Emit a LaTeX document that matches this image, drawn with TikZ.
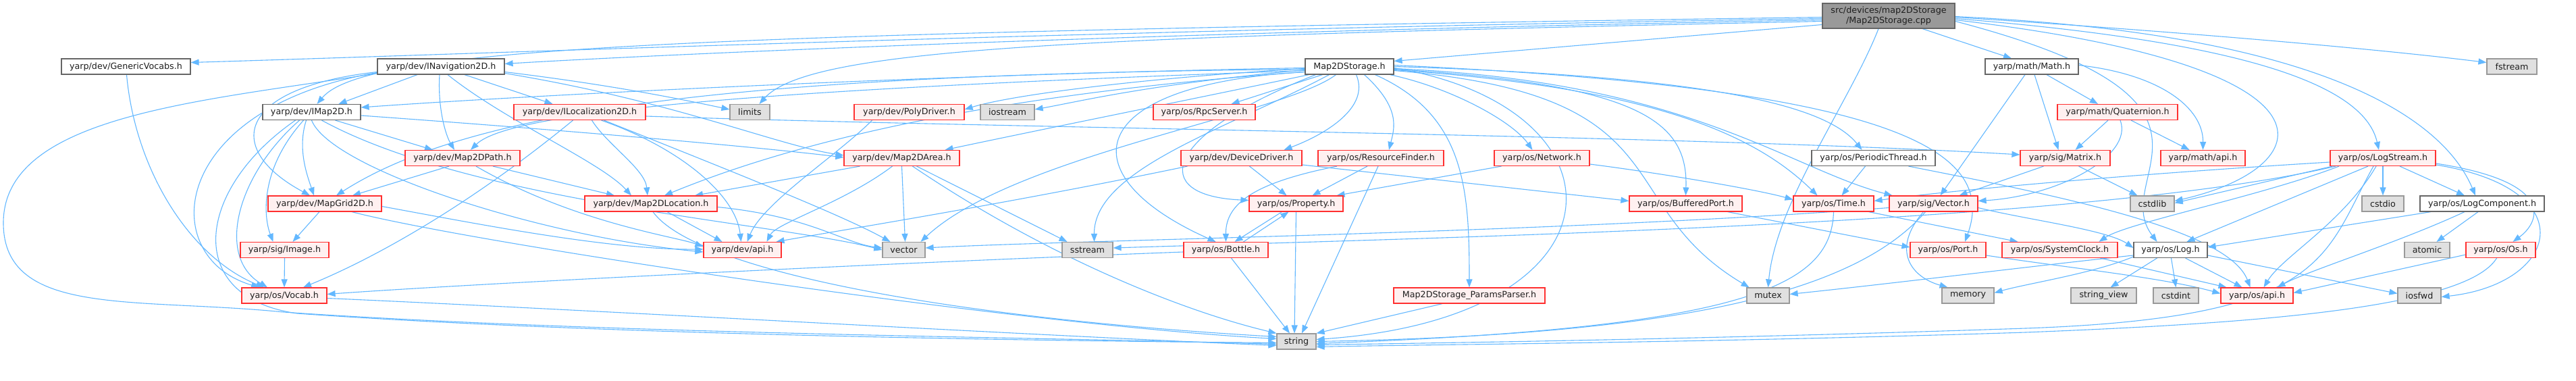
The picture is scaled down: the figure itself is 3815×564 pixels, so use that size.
\documentclass[tikz,border=0pt]{standalone}
\usepackage{fontspec}
\setmainfont{DejaVu Sans}
\usetikzlibrary{arrows.meta}
\definecolor{edgec}{HTML}{63B8FF}
\definecolor{redb}{HTML}{FF3030}
\definecolor{redf}{HTML}{FFF0F0}
\definecolor{grayf}{HTML}{E0E0E0}
\definecolor{grayb}{HTML}{999999}
\definecolor{darkb}{HTML}{666666}
\definecolor{rootf}{HTML}{999999}
\pgfdeclarelayer{bg}
\pgfsetlayers{bg,main}
\begin{document}
\begin{tikzpicture}[x=1pt,y=-1pt,
  nbox/.style={rectangle, draw, line width=1.2pt, minimum height=23pt, inner sep=0pt, font=\fontsize{12.7}{15}\selectfont, text=black!88},
  wnode/.style={nbox, draw=darkb, fill=white},
  rnode/.style={nbox, draw=redb, fill=redf},
  gnode/.style={nbox, draw=grayb, fill=grayf},
  edg/.style={draw=edgec, line width=1.1pt, -{Triangle[length=12pt,width=9pt]}}]
\useasboundingbox (0,0) rectangle (3815,564);
% root
\node[nbox, draw=darkb, fill=rootf, minimum width=196pt, minimum height=37pt, align=center] (root) at (2797,23.5) {src/devices/map2DStorage\\/Map2DStorage.cpp};
% row 1
\node[wnode, minimum width=191pt] (gv) at (186.5,98.5) {yarp/dev/GenericVocabs.h};
\node[wnode, minimum width=188pt] (nav) at (653,98.5) {yarp/dev/INavigation2D.h};
\node[wnode, minimum width=131pt] (m2s) at (1998.5,98.5) {Map2DStorage.h};
\node[wnode, minimum width=138pt] (math) at (3009,98.5) {yarp/math/Math.h};
\node[gnode, minimum width=74pt] (fstream) at (3720,98.5) {fstream};
% row 2
\node[wnode, minimum width=145pt] (imap) at (461.5,166) {yarp/dev/IMap2D.h};
\node[rnode, minimum width=195pt] (iloc) at (858.5,166) {yarp/dev/ILocalization2D.h};
\node[gnode, minimum width=59pt] (limits) at (1110.5,166) {limits};
\node[rnode, minimum width=163pt] (poly) at (1346.5,166) {yarp/dev/PolyDriver.h};
\node[gnode, minimum width=80pt] (iostream) at (1492,166) {iostream};
\node[rnode, minimum width=151pt] (rpc) at (1783.5,166) {yarp/os/RpcServer.h};
\node[rnode, minimum width=178pt] (quat) at (3136,166) {yarp/math/Quaternion.h};
% row 3
\node[rnode, minimum width=170pt] (path) at (685,234) {yarp/dev/Map2DPath.h};
\node[rnode, minimum width=171pt] (area) at (1335.5,234) {yarp/dev/Map2DArea.h};
\node[rnode, minimum width=179pt] (dd) at (1838.5,234) {yarp/dev/DeviceDriver.h};
\node[rnode, minimum width=186pt] (rf) at (2045,234) {yarp/os/ResourceFinder.h};
\node[rnode, minimum width=141pt] (net) at (2283.5,234) {yarp/os/Network.h};
\node[wnode, minimum width=183pt] (pt) at (2774.5,234) {yarp/os/PeriodicThread.h};
\node[rnode, minimum width=133pt] (matrix) at (3058.5,234) {yarp/sig/Matrix.h};
\node[rnode, minimum width=125pt] (mapi) at (3262.5,234) {yarp/math/api.h};
\node[rnode, minimum width=156pt] (ls) at (3529,234) {yarp/os/LogStream.h};
% row 4
\node[rnode, minimum width=168pt] (grid) at (481,301.5) {yarp/dev/MapGrid2D.h};
\node[rnode, minimum width=196pt] (loc) at (964,301.5) {yarp/dev/Map2DLocation.h};
\node[rnode, minimum width=139pt] (prop) at (1919.5,301.5) {yarp/os/Property.h};
\node[rnode, minimum width=167pt] (bp) at (2496.5,301.5) {yarp/os/BufferedPort.h};
\node[rnode, minimum width=119pt] (time) at (2715.5,301.5) {yarp/os/Time.h};
\node[rnode, minimum width=131pt] (vec) at (2863.5,301.5) {yarp/sig/Vector.h};
\node[gnode, minimum width=65pt] (cstdlib) at (3187.5,301.5) {cstdlib};
\node[gnode, minimum width=62pt] (cstdio) at (3529,301.5) {cstdio};
\node[wnode, minimum width=184pt] (lc) at (3676,301.5) {yarp/os/LogComponent.h};
% row 5
\node[rnode, minimum width=131pt] (image) at (421.5,370) {yarp/sig/Image.h};
\node[rnode, minimum width=115pt] (devapi) at (1099.5,370) {yarp/dev/api.h};
\node[gnode, minimum width=63pt] (vector) at (1338.5,370) {vector};
\node[gnode, minimum width=75pt] (sstream) at (1610.5,370) {sstream};
\node[rnode, minimum width=125pt] (bottle) at (1815.5,370) {yarp/os/Bottle.h};
\node[rnode, minimum width=112pt] (port) at (2885,370) {yarp/os/Port.h};
\node[rnode, minimum width=171pt] (sc) at (3050.5,370) {yarp/os/SystemClock.h};
\node[wnode, minimum width=109pt] (log) at (3214.5,370) {yarp/os/Log.h};
\node[gnode, minimum width=67pt] (atomic) at (3594.5,370) {atomic};
\node[rnode, minimum width=103pt] (os) at (3703.5,370) {yarp/os/Os.h};
% row 6
\node[rnode, minimum width=126pt] (vocab) at (421,437.5) {yarp/os/Vocab.h};
\node[rnode, minimum width=224pt] (pp) at (2176,437.5) {Map2DStorage\_ParamsParser.h};
\node[gnode, minimum width=63pt] (mutex) at (2618.5,437.5) {mutex};
\node[gnode, minimum width=77pt] (memory) at (2914.5,437.5) {memory};
\node[gnode, minimum width=97pt] (sv) at (3115.5,437.5) {string\_view};
\node[gnode, minimum width=67pt] (cstdint) at (3222.5,437.5) {cstdint};
\node[rnode, minimum width=107pt] (osapi) at (3342.5,437.5) {yarp/os/api.h};
\node[gnode, minimum width=64pt] (iosfwd) at (3583,437.5) {iosfwd};
% row 7
\node[gnode, minimum width=58pt] (string) at (1920,505.5) {string};

\begin{pgfonlayer}{bg}
\fill[white] (0,0) rectangle (3815,564);
% root edges
\draw[edg] ([yshift=-13pt]root.west) -- ([yshift=8pt]m2s.east);
\draw[edg] ([yshift=-4pt]root.west) .. controls (1600,45) and (700,80) .. ([yshift=6pt]gv.east);
\draw[edg] ([yshift=-6pt]root.west) .. controls (1600,50) and (900,85) .. ([yshift=4pt]nav.east);
\draw[edg] ([yshift=-2pt]root.west) .. controls (1000,50) and (540,70) .. ([xshift=8pt]imap.north);
\draw[edg] ([yshift=-8pt]root.west) .. controls (1600,55) and (1200,70) .. ([xshift=14pt]limits.north);
\draw[edg] ([xshift=50pt]root.south) -- ([xshift=-30pt]math.north);
\draw[edg] ([xshift=-15pt]root.south) .. controls (2740,150) and (2630,300) .. (mutex.north);
\draw[edg] ([yshift=-2pt]root.east) .. controls (3200,45) and (3500,70) .. ([yshift=6pt]fstream.west);
\draw[edg] ([yshift=-4pt]root.east) .. controls (3300,60) and (3500,120) .. ([xshift=-6pt]ls.north);
\draw[edg] ([yshift=-1pt]root.east) .. controls (3450,50) and (3620,180) .. ([xshift=-10pt]lc.north);
\draw[edg] ([yshift=-6pt]root.east) .. controls (3500,100) and (3430,250) .. ([yshift=4pt]cstdlib.east);
\draw[edg] ([yshift=-8pt]root.east) .. controls (3350,150) and (3120,260) .. ([xshift=-20pt]log.north);
% Map2DStorage.h edges
\draw[edg] ([xshift=-40pt]m2s.south) -- ([xshift=40pt]rpc.north);
\draw[edg] ([yshift=-3pt]m2s.west) .. controls (1700,115) and (1500,140) .. ([yshift=4pt]poly.east);
\draw[edg] ([yshift=-5pt]m2s.west) .. controls (1700,125) and (1600,150) .. ([yshift=4pt]iostream.east);
\draw[edg] ([yshift=-2pt]m2s.west) .. controls (1400,110) and (800,140) .. ([yshift=7pt]imap.east);
\draw[edg] ([yshift=-4pt]m2s.west) .. controls (1100,110) and (700,160) .. ([xshift=17pt]grid.north);
\draw[edg] ([yshift=-6pt]m2s.west) .. controls (1200,130) and (760,160) .. ([xshift=12pt]path.north);
\draw[edg] ([yshift=-8pt]m2s.west) .. controls (1600,130) and (1250,180) .. ([xshift=20pt]loc.north);
\draw[edg] ([xshift=-60pt]m2s.south) .. controls (1750,150) and (1550,190) .. ([xshift=64pt]area.north);
\draw[edg] ([xshift=10pt]m2s.south) .. controls (2030,160) and (1960,200) .. ([xshift=63pt]dd.north);
\draw[edg] ([xshift=22pt]m2s.south) .. controls (2075,160) and (2065,190) .. ([xshift=12pt]rf.north);
\draw[edg] ([xshift=60pt]m2s.south) .. controls (2150,130) and (2240,180) .. ([xshift=-14pt]net.north);
\draw[edg] ([xshift=38pt]m2s.south) .. controls (2170,170) and (2176,280) .. (pp.north);
\draw[edg] ([yshift=-2pt]m2s.east) .. controls (2420,160) and (2420,470) .. ([yshift=3pt]string.east);
\draw[edg] ([xshift=-20pt]m2s.south) .. controls (1900,170) and (1500,230) .. ([xshift=25pt]vector.north);
\draw[edg] ([xshift=-30pt]m2s.south) .. controls (1820,190) and (1620,250) .. ([xshift=10pt]sstream.north);
\draw[edg] ([yshift=-8pt]m2s.west) .. controls (1600,125) and (1580,260) .. ([xshift=-15pt]bottle.north);
\draw[edg] ([xshift=-50pt]m2s.south) .. controls (1720,200) and (1700,290) .. ([yshift=5pt]prop.west);
\draw[edg] (m2s.east) .. controls (2500,112) and (2700,150) .. ([xshift=-17pt]pt.north);
\draw[edg] ([yshift=-4pt]m2s.east) .. controls (2430,125) and (2500,180) .. (bp.north);
\draw[edg] ([yshift=-5pt]m2s.east) .. controls (2450,130) and (2600,200) .. ([xshift=-24pt]time.north);
\draw[edg] ([yshift=-3pt]m2s.east) .. controls (2500,120) and (2650,250) .. ([xshift=-61pt]vec.north);
\draw[edg] ([yshift=2pt]m2s.east) .. controls (2800,130) and (2960,220) .. ([xshift=25pt]port.north);
\draw[edg] ([yshift=-6pt]m2s.east) .. controls (2500,140) and (2380,300) .. ([xshift=-28pt]mutex.north);
% INavigation2D
\draw[edg] ([xshift=-35pt]nav.south) -- ([xshift=40pt]imap.north);
\draw[edg] ([xshift=35pt]nav.south) -- ([xshift=-40pt]iloc.north);
\draw[edg] ([xshift=-2pt]nav.south) .. controls (648,160) and (660,200) .. ([xshift=-12pt]path.north);
\draw[edg] ([xshift=10pt]nav.south) .. controls (750,180) and (890,240) .. ([xshift=-29pt]loc.north);
\draw[edg] ([yshift=-8pt]nav.east) .. controls (900,125) and (1000,145) .. ([yshift=4pt]limits.west);
\draw[edg] ([yshift=-8pt]nav.west) .. controls (350,130) and (330,220) .. ([xshift=-22pt]grid.north);
\draw[edg] ([yshift=-9pt]nav.west) .. controls (250,160) and (230,380) .. ([xshift=-37pt]vocab.north);
\draw[edg] ([yshift=-10pt]nav.west) .. controls (300,150) and (5,170) .. (5,330) .. controls (5,470) and (200,440) .. (420,462) .. controls (900,495) and (1600,500) .. ([yshift=-4pt]string.west);
\draw[edg] ([yshift=-10pt]nav.east) .. controls (1000,150) and (1150,215) .. ([yshift=4pt]area.west);
% IMap2D
\draw[edg] ([xshift=-8pt]imap.south) .. controls (440,220) and (455,260) .. ([xshift=-16pt]grid.north);
\draw[edg] ([xshift=-12pt]imap.south) .. controls (385,250) and (390,320) .. ([xshift=-17pt]image.north);
\draw[edg] ([xshift=-18pt]imap.south) .. controls (350,260) and (320,380) .. ([xshift=-25pt]vocab.north);
\draw[edg] ([xshift=-24pt]imap.south) .. controls (290,280) and (270,440) .. (440,464) .. controls (900,497) and (1600,505) .. ([yshift=-2pt]string.west);
\draw[edg] ([yshift=-5pt]imap.east) .. controls (800,190) and (1100,215) .. ([yshift=1pt]area.west);
\draw[edg] ([xshift=35pt]imap.south) -- ([xshift=-44pt]path.north);
\draw[edg] (imap.south) .. controls (490,250) and (800,350) .. ([yshift=-3pt]devapi.west);
\draw[edg] ([xshift=15pt]imap.south) .. controls (700,300) and (1150,330) .. (vector.west);
% ILocalization2D
\draw[edg] ([xshift=18pt]iloc.south) .. controls (900,215) and (955,250) .. ([xshift=-5pt]loc.north);
\draw[edg] ([xshift=32pt]iloc.south) .. controls (1010,220) and (1090,290) .. ([xshift=-2pt]devapi.north);
\draw[edg] ([xshift=-10pt]iloc.south) .. controls (700,300) and (560,380) .. ([xshift=28pt]vocab.north);
\draw[edg] ([yshift=-6pt]iloc.east) .. controls (1500,190) and (2500,200) .. ([yshift=5pt]matrix.west);
\draw[edg] ([xshift=36pt]iloc.south) .. controls (1100,260) and (1250,320) .. ([xshift=-20pt]vector.north);
% MapGrid2D
\draw[edg] ([xshift=-8pt]grid.south) -- ([xshift=12pt]image.north);
\draw[edg] ([yshift=-4pt]grid.east) .. controls (700,330) and (900,370) .. ([yshift=1pt]devapi.west);
\draw[edg] ([xshift=40pt]grid.south) .. controls (700,360) and (1500,480) .. ([yshift=4pt]string.west);
% Map2DPath
\draw[edg] ([xshift=45pt]path.south) -- ([xshift=-54pt]loc.north);
\draw[edg] ([xshift=-20pt]path.south) -- ([xshift=41pt]grid.north);
\draw[edg] ([xshift=20pt]path.south) .. controls (850,330) and (1000,350) .. ([yshift=5pt]devapi.west);
% Map2DLocation
\draw[edg] ([xshift=24pt]loc.south) -- ([xshift=-30pt]devapi.north);
\draw[edg] ([xshift=3pt]loc.south) .. controls (1030,400) and (1400,470) .. ([yshift=7pt]string.west);
\draw[edg] ([yshift=-5pt]loc.east) .. controls (1200,320) and (1250,360) .. ([yshift=3pt]vector.west);
% Map2DArea
\draw[edg] ([xshift=-62pt]area.south) -- ([xshift=65pt]loc.north);
\draw[edg] ([xshift=-14pt]area.south) .. controls (1250,300) and (1150,330) .. ([xshift=36pt]devapi.north);
\draw[edg] (area.south) -- ([xshift=2pt]vector.north);
\draw[edg] ([xshift=22pt]area.south) -- ([xshift=-30pt]sstream.north);
\draw[edg] ([xshift=16pt]area.south) .. controls (1550,380) and (1750,460) .. (string.north west);
% PolyDriver
\draw[edg] ([xshift=-55pt]poly.south) .. controls (1240,230) and (1130,300) .. ([xshift=7pt]devapi.north);
% DeviceDriver
\draw[edg] ([xshift=12pt]dd.south) -- ([xshift=-14pt]prop.north);
\draw[edg] ([xshift=-80pt]dd.south) .. controls (1500,300) and (1250,340) .. ([xshift=50pt]devapi.north);
\draw[edg] ([yshift=-10pt]dd.east) -- ([yshift=4pt]bp.west);
% ResourceFinder
\draw[edg] ([xshift=-65pt]rf.south) .. controls (1860,270) and (1815,300) .. (bottle.north);
\draw[edg] ([xshift=-20pt]rf.south) -- ([xshift=24pt]prop.north);
\draw[edg] ([xshift=-4pt]rf.south) -- ([xshift=8pt]string.north);
% Network
\draw[edg] ([xshift=-60pt]net.south) -- ([xshift=60pt]prop.north);
\draw[edg] ([yshift=-9pt]net.east) .. controls (2450,255) and (2600,280) .. ([yshift=6pt]time.west);
% Property / Bottle
\draw[edg] ([xshift=-21pt]prop.south) -- ([xshift=13pt]bottle.north);
\draw[edg] ([xshift=26pt]bottle.north) -- ([xshift=-11pt]prop.south);
\draw[edg] (prop.south) -- ([xshift=-3pt]string.north);
\draw[edg] ([xshift=8pt]bottle.south) -- ([xshift=-10pt]string.north);
\draw[edg] ([yshift=-3pt]bottle.west) .. controls (1300,390) and (700,420) .. ([yshift=2pt]vocab.east);
% Vocab, Image, GenericVocabs
\draw[edg] ([yshift=-4pt]vocab.east) .. controls (900,460) and (1500,495) .. ([yshift=-6pt]string.west);
\draw[edg] (image.south) -- (vocab.north);
\draw[edg] ([xshift=1pt]gv.south) .. controls (200,250) and (280,380) .. ([xshift=-30pt]vocab.north);
% ParamsParser
\draw[edg] ([xshift=-40pt]pp.south) -- (string.north east);
% PeriodicThread
\draw[edg] ([xshift=-12pt]pt.south) -- ([xshift=12pt]time.north);
\draw[edg] ([xshift=52pt]pt.south) .. controls (3050,290) and (3300,340) .. ([xshift=-10pt]osapi.north);
% BufferedPort
\draw[edg] ([xshift=62pt]bp.south) -- ([yshift=4pt]port.west);
% Time
\draw[edg] (time.south) .. controls (2712,420) and (2600,485) .. ([yshift=-3pt]string.east);
\draw[edg] ([xshift=52pt]time.south) -- ([xshift=-62pt]sc.north);
% Vector.h
\draw[edg] ([xshift=-15pt]vec.south) .. controls (2800,370) and (2830,410) .. ([xshift=-30pt]memory.north);
\draw[edg] ([xshift=-12pt]vec.south) .. controls (2750,430) and (2500,495) .. (string.east);
\draw[edg] ([yshift=-6pt]vec.west) .. controls (2300,345) and (1600,355) .. ([yshift=3pt]vector.east);
\draw[edg] ([yshift=-6pt]vec.east) .. controls (3000,325) and (3120,340) .. ([yshift=3pt]log.west);
% Port, SystemClock
\draw[edg] ([yshift=-8pt]port.east) .. controls (3050,395) and (3200,410) .. ([yshift=3pt]osapi.west);
\draw[edg] ([xshift=60pt]sc.south) -- ([xshift=-45pt]osapi.north);
% Log
\draw[edg] ([xshift=-20pt]log.south) -- ([xshift=10pt]sv.north);
\draw[edg] ([xshift=1pt]log.south) -- (cstdint.north);
\draw[edg] ([xshift=22pt]log.south) -- ([xshift=-22pt]osapi.north);
\draw[edg] ([yshift=-8pt]log.east) -- ([yshift=3pt]iosfwd.west);
\draw[edg] ([yshift=-8pt]log.west) .. controls (3000,395) and (2800,420) .. ([yshift=2pt]mutex.east);
\draw[edg] ([yshift=-10pt]log.west) .. controls (3100,405) and (3000,420) .. ([yshift=4pt]memory.east);
% LogStream
\draw[edg] (ls.south) -- (cstdio.north);
\draw[edg] ([xshift=25pt]ls.south) -- ([xshift=-26pt]lc.north);
\draw[edg] ([xshift=-75pt]ls.south) -- ([yshift=1pt]cstdlib.east);
\draw[edg] ([xshift=-65pt]ls.south) .. controls (3350,290) and (3150,330) .. ([xshift=58pt]sc.north);
\draw[edg] ([xshift=-22pt]ls.south) -- ([xshift=24pt]log.north);
\draw[edg] ([xshift=-10pt]ls.south) .. controls (3470,330) and (3380,380) .. ([xshift=10pt]osapi.north);
\draw[edg] ([xshift=-14pt]ls.south) .. controls (3440,380) and (3450,470) .. (3000,486) .. controls (2500,503) and (2100,508) .. ([yshift=-5pt]string.east);
\draw[edg] ([yshift=-8pt]ls.east) .. controls (3790,270) and (3760,330) .. ([xshift=18pt]os.north);
\draw[edg] ([yshift=-10pt]ls.east) .. controls (3830,280) and (3790,420) .. ([yshift=-2pt]iosfwd.east);
\draw[edg] ([yshift=-6pt]ls.west) .. controls (3200,255) and (2900,280) .. ([yshift=4pt]time.east);
\draw[edg] ([xshift=-70pt]ls.south) .. controls (3100,330) and (2200,350) .. ([yshift=3pt]sstream.east);
% LogComponent
\draw[edg] ([xshift=-76pt]lc.south) -- ([yshift=4pt]log.east);
\draw[edg] ([xshift=-26pt]lc.south) .. controls (3550,360) and (3420,400) .. ([xshift=30pt]osapi.north);
\draw[edg] ([xshift=-6pt]lc.south) -- ([xshift=14pt]atomic.north);
% Os
\draw[edg] ([yshift=-7pt]os.west) -- ([yshift=4pt]osapi.east);
\draw[edg] ([xshift=-6pt]os.south) .. controls (3650,460) and (3300,480) .. (3000,492) .. controls (2500,508) and (2100,510) .. ([yshift=-8pt]string.east);
% Math
\draw[edg] ([xshift=-10pt]math.south) -- ([xshift=10pt]vec.north);
\draw[edg] ([xshift=4pt]math.south) -- ([xshift=-10pt]matrix.north);
\draw[edg] ([xshift=22pt]math.south) -- ([xshift=-29pt]quat.north);
\draw[edg] ([yshift=2pt]math.east) .. controls (3200,110) and (3263,160) .. (mapi.north);
% Quaternion
\draw[edg] ([xshift=-14pt]quat.south) -- ([xshift=15pt]matrix.north);
\draw[edg] ([xshift=20pt]quat.south) -- ([xshift=-20pt]mapi.north);
\draw[edg] ([xshift=4pt]quat.south) .. controls (3160,230) and (3050,290) .. ([yshift=4pt]vec.east);
% Matrix
\draw[edg] ([xshift=20pt]matrix.south) -- ([xshift=-22pt]cstdlib.north);
\draw[edg] ([xshift=-32pt]matrix.south) -- ([xshift=38pt]vec.north);
\end{pgfonlayer}
\end{tikzpicture}
\end{document}
